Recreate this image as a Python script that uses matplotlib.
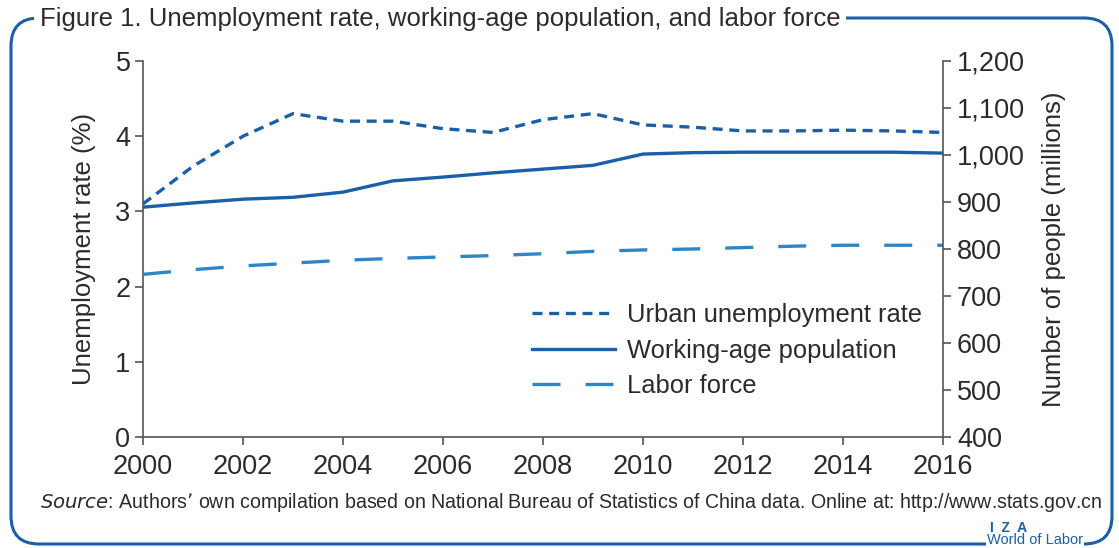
import matplotlib
matplotlib.use('Agg')
import matplotlib.pyplot as plt
from matplotlib.patches import FancyBboxPatch

plt.rcParams['font.family'] = ['Liberation Sans', 'DejaVu Sans']

years = list(range(2000, 2017))
urban_rate = [3.1, 3.6, 4.0, 4.3, 4.2, 4.2, 4.1, 4.05, 4.22, 4.3, 4.15, 4.12, 4.07, 4.07, 4.08, 4.07, 4.05]
working_age = [889, 898, 906, 910, 921, 945, 953, 962, 970, 978, 1002, 1005, 1006, 1006, 1006, 1006, 1004]
labor_force = [746, 756, 764, 770, 776, 780, 783, 786, 790, 795, 798, 800, 803, 806, 808, 808, 808]

dark = '#1a5fa8'
light = '#2f86c6'
txt = '#2b2b2b'
grey = '#555555'

fig = plt.figure(figsize=(11.19, 5.48), dpi=100)
ax = fig.add_axes([143/1119, 1-437/548, 800/1119, 376/548])
ax2 = ax.twinx()

l1, = ax.plot(years, urban_rate, color=dark, lw=2.4, dashes=(3.0, 2.0), label='Urban unemployment rate')
l2, = ax2.plot(years, working_age, color=dark, lw=2.4, label='Working-age population')
l3, = ax2.plot(years, labor_force, color=light, lw=2.4, dashes=(8.4, 7.5), label='Labor force')

ax.set_xlim(2000, 2016)
ax.set_ylim(0, 5)
ax2.set_ylim(400, 1200)
ax.set_xticks(range(2000, 2017, 2))
ax.set_yticks(range(0, 6))
ax2.set_yticks(range(400, 1201, 100))
ax2.set_yticklabels([f'{v:,}' for v in range(400, 1201, 100)])

for a in (ax, ax2):
    a.spines['top'].set_visible(False)
    for s in a.spines.values():
        s.set_color(grey)
        s.set_linewidth(1.2)
    a.tick_params(colors=grey, labelcolor=txt, labelsize=19.5, length=6, width=1.2, direction='out')
ax.spines['right'].set_visible(False)
ax2.spines['left'].set_visible(False)
ax2.spines['bottom'].set_visible(False)
ax.tick_params(axis='x', pad=6)
ax.tick_params(axis='y', pad=3)
ax2.tick_params(axis='y', pad=4)

ax.set_ylabel('Unemployment rate (%)', fontsize=18.5, color=txt, labelpad=14)
ax2.set_ylabel('Number of people (millions)', fontsize=18.5, color=txt, labelpad=12)

leg = ax.legend(handles=[l1, l2, l3], loc='center left', bbox_to_anchor=(0.458, 0.23),
                frameon=False, fontsize=18.4, handlelength=3.25, handletextpad=0.47, labelspacing=0.45,
                labelcolor=txt)

# rounded frame
frame = FancyBboxPatch((11/1119, 4/548), 1101/1119, 526/548, boxstyle='round,pad=0,rounding_size=0.025',
                       transform=fig.transFigure, fill=False, edgecolor=dark, lw=2.2,
                       mutation_aspect=1119/548)
fig.patches.append(frame)

fig.text(40/1119, 1-19/548, 'Figure 1. Unemployment rate, working-age population, and labor force',
         fontsize=18.5, color=txt, va='center', ha='left',
         bbox=dict(facecolor='white', edgecolor='none', pad=4))
fig.text(40/1119, 1-503/548, r'$\it{Source}$: Authors' + '\u2019 own compilation based on National Bureau of Statistics of China data. Online at: http://www.stats.gov.cn',
         fontsize=14.1, color=txt, va='center', ha='left')
fig.text(1009/1119, 1-528/548, 'I  Z  A', fontsize=10, color=dark, fontweight='bold', ha='center', va='center')
fig.text(1035/1119, 1-540/548, 'World of Labor', fontsize=10.5, color=dark, ha='center', va='center',
         bbox=dict(facecolor='white', edgecolor='none', pad=1))

fig.savefig('out.png', dpi=100)
